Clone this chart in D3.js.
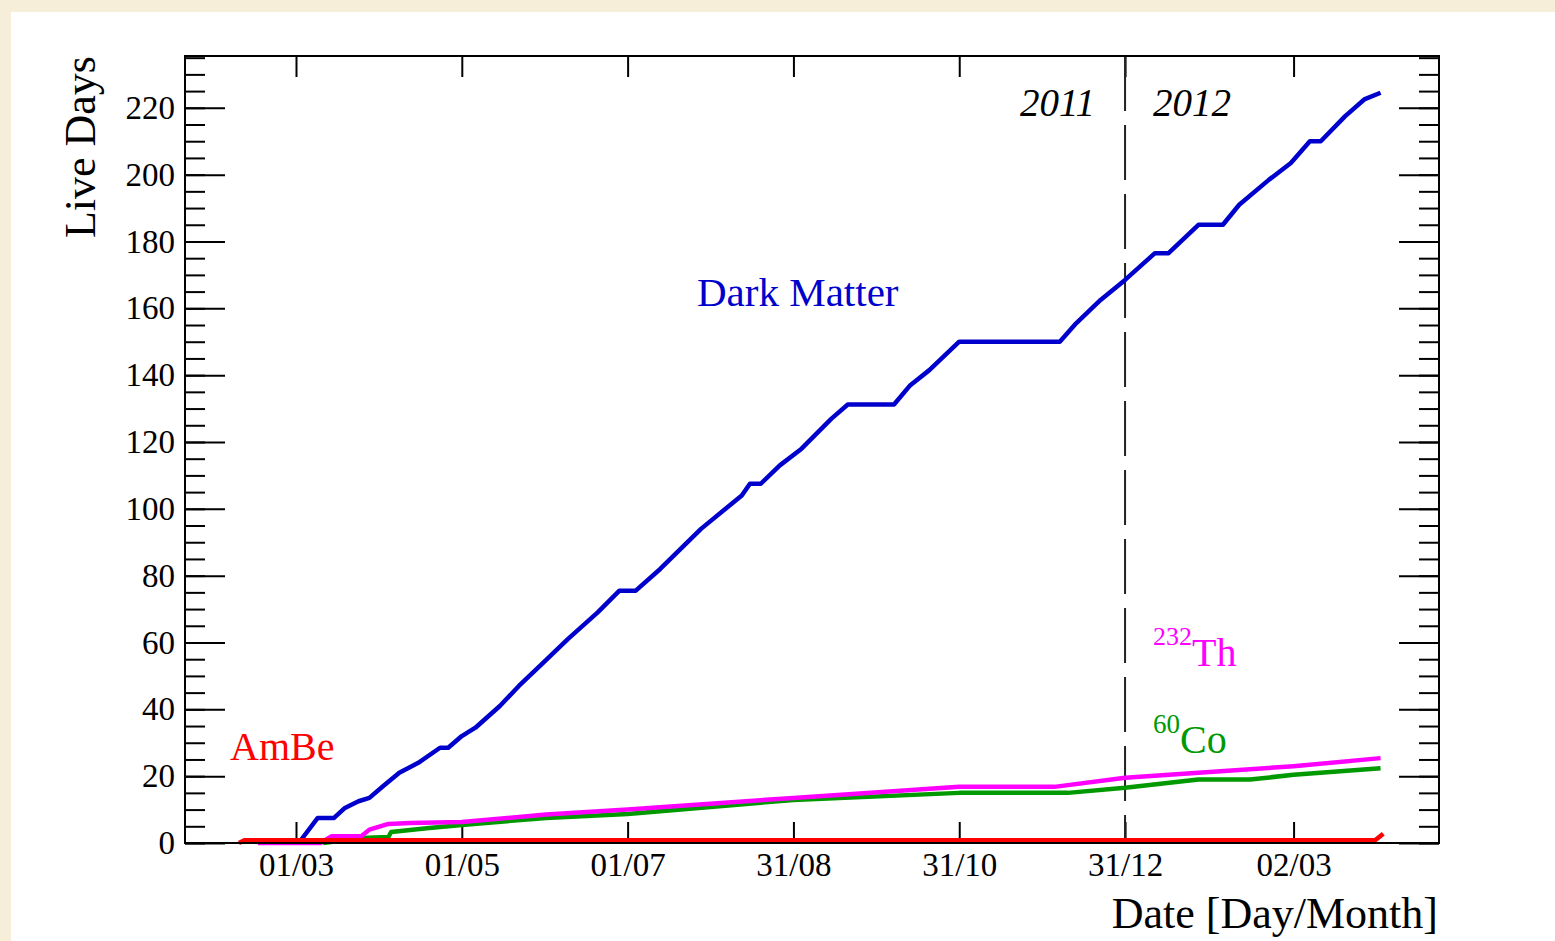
<!DOCTYPE html>
<html>
<head>
<meta charset="utf-8">
<script src="https://cdn.jsdelivr.net/npm/d3@7"></script>
<style>
  html, body { margin: 0; padding: 0; background: #f6eed8; }
  svg { display: block; }
  text { font-family: "Liberation Serif", "Times New Roman", serif; }
</style>
</head>
<body>
<svg id="chart" width="1555" height="941"></svg>
<script>
// ---------- data ----------
const xTickDates  = ["2011-03-01","2011-05-01","2011-07-01","2011-08-31","2011-10-31","2011-12-31","2012-03-02"];
const yTickValues = [0,20,40,60,80,100,120,140,160,180,200,220];
const yearBoundary = "2011-12-31";

const darkMatterDates = ["2011-03-02","2011-03-09","2011-03-15","2011-03-19","2011-03-24","2011-03-28","2011-04-02","2011-04-08","2011-04-15","2011-04-23","2011-04-26","2011-05-01","2011-05-06","2011-05-15","2011-05-22","2011-05-31","2011-06-09","2011-06-20","2011-06-28","2011-07-04","2011-07-13","2011-07-28","2011-08-12","2011-08-15","2011-08-19","2011-08-26","2011-09-03","2011-09-14","2011-09-20","2011-10-07","2011-10-13","2011-10-20","2011-10-31","2011-12-07","2011-12-13","2011-12-22","2011-12-31","2012-01-11","2012-01-16","2012-01-27","2012-02-05","2012-02-11","2012-02-22","2012-03-01","2012-03-08","2012-03-12","2012-03-21","2012-03-28","2012-04-03"];
const darkMatterDays  = [0,7.5,7.5,10.5,12.5,13.5,17,21,24,28.5,28.5,32,34.5,41,47,54,61,69,75.5,75.5,82,94,104,107.5,107.5,113,118,127,131.2,131.2,137,141.5,150,150,155.5,162.5,168.5,176.5,176.5,185,185,191,198.5,203.5,210,210,217.5,222.5,224.5];

const thoriumDates = ["2011-02-15","2011-03-10","2011-03-14","2011-03-25","2011-03-28","2011-04-04","2011-04-12","2011-05-01","2011-06-01","2011-07-01","2011-08-31","2011-10-31","2011-12-05","2011-12-31","2012-01-27","2012-03-02","2012-04-03"];
const thoriumDays  = [0,0,2,2,4,5.7,6,6.3,8.5,10,13.5,16.8,16.8,19.5,21,23,25.4];

const cobaltDates = ["2011-03-11","2011-03-25","2011-04-04","2011-04-05","2011-04-19","2011-05-01","2011-06-01","2011-07-01","2011-08-31","2011-10-31","2011-12-10","2011-12-31","2012-01-27","2012-02-15","2012-03-02","2012-04-03"];
const cobaltDays  = [0,1.5,1.8,3.3,4.5,5.4,7.5,8.7,12.9,15,15,16.5,19,19,20.4,22.4];

const ambeDates = ["2011-02-08","2011-02-10","2012-04-01","2012-04-04"];
const ambeDays  = [0,0.8,0.8,2.8];

// ---------- layout ----------
const svg = d3.select("#chart");
const W = 1555, H = 941;
const mLeft = 185, mRight = 1439, mTop = 56, mBottom = 843;

svg.append("rect").attr("x", 0).attr("y", 0).attr("width", W).attr("height", H).attr("fill", "#f6eed8");
svg.append("rect").attr("x", 11).attr("y", 12).attr("width", W - 11).attr("height", H - 12).attr("fill", "#ffffff");

const parse = d3.utcParse("%Y-%m-%d");
const fmt = d3.utcFormat("%d/%m");

const x = d3.scaleUtc()
  .domain([new Date(Date.UTC(2011, 0, 19, 4)), new Date(Date.UTC(2012, 3, 24, 12))])
  .range([mLeft, mRight]);
const y = d3.scaleLinear().domain([0, 235.5]).range([mBottom, mTop]);

const g = svg.append("g");

// ---------- axes ----------
const minorY = d3.range(0, 236, 5);
function styleAxis(sel) {
  sel.select(".domain").remove();
  sel.selectAll(".tick line").attr("stroke", "#000").attr("stroke-width", 2);
  sel.selectAll("text").attr("fill", "#000").style("font-family", '"Liberation Serif", serif');
}

g.append("g").attr("transform", `translate(${mLeft},0)`)
  .call(d3.axisLeft(y).tickValues(minorY).tickSizeInner(-20).tickSizeOuter(0).tickFormat(""))
  .call(styleAxis);
g.append("g").attr("transform", `translate(${mLeft},0)`)
  .call(d3.axisLeft(y).tickValues(yTickValues).tickSizeInner(-40).tickSizeOuter(0).tickPadding(10).tickFormat(d3.format("d")))
  .call(styleAxis)
  .selectAll("text").style("font-size", "33px");
g.append("g").attr("transform", `translate(${mRight},0)`)
  .call(d3.axisRight(y).tickValues(minorY).tickSizeInner(-20).tickSizeOuter(0).tickFormat(""))
  .call(styleAxis);
g.append("g").attr("transform", `translate(${mRight},0)`)
  .call(d3.axisRight(y).tickValues(yTickValues).tickSizeInner(-40).tickSizeOuter(0).tickFormat(""))
  .call(styleAxis);

const xTicks = xTickDates.map(parse);
g.append("g").attr("transform", `translate(0,${mBottom})`)
  .call(d3.axisBottom(x).tickValues(xTicks).tickSizeInner(-21).tickSizeOuter(0).tickPadding(10).tickFormat(fmt))
  .call(styleAxis)
  .selectAll("text").style("font-size", "33px");
g.append("g").attr("transform", `translate(0,${mTop})`)
  .call(d3.axisTop(x).tickValues(xTicks).tickSizeInner(-21).tickSizeOuter(0).tickFormat(""))
  .call(styleAxis);

const xb = x(parse(yearBoundary));
g.append("line")
  .attr("x1", xb).attr("x2", xb).attr("y1", mTop).attr("y2", mBottom)
  .attr("stroke", "#222").attr("stroke-width", 2)
  .attr("stroke-dasharray", "55,14");

// ---------- series ----------
const line = d3.line().x(d => x(d[0])).y(d => y(d[1]));
function series(dates, vals, color) {
  const pts = dates.map((d, i) => [parse(d), vals[i]]);
  g.append("path").datum(pts)
    .attr("d", line)
    .attr("fill", "none")
    .attr("stroke", color)
    .attr("stroke-width", 4.5)
    .attr("stroke-linejoin", "round");
}
series(darkMatterDates, darkMatterDays, "#0000cc");
series(cobaltDates, cobaltDays, "#009900");
series(thoriumDates, thoriumDays, "#ff00ff");
series(ambeDates, ambeDays, "#ff0000");

g.append("rect")
  .attr("x", mLeft).attr("y", mTop).attr("width", mRight - mLeft).attr("height", mBottom - mTop)
  .attr("fill", "none").attr("stroke", "#000").attr("stroke-width", 2);

// ---------- labels ----------
svg.append("text")
  .attr("transform", `translate(95,56) rotate(-90)`)
  .attr("text-anchor", "end")
  .style("font-size", "44px")
  .text("Live Days");

svg.append("text")
  .attr("x", 1438).attr("y", 928)
  .attr("text-anchor", "end")
  .style("font-size", "44px")
  .text("Date [Day/Month]");

svg.append("text").attr("x", 1020).attr("y", 116)
  .style("font-size", "39px").style("font-style", "italic").text("2011");
svg.append("text").attr("x", 1153).attr("y", 116)
  .style("font-size", "39px").style("font-style", "italic").text("2012");

svg.append("text").attr("x", 697).attr("y", 306)
  .style("font-size", "41px").attr("fill", "#0000cc").text("Dark Matter");

svg.append("text").attr("x", 230).attr("y", 760)
  .style("font-size", "40px").attr("fill", "#ff0000").text("AmBe");

const th = svg.append("text").attr("x", 1153).attr("y", 666).attr("fill", "#ff00ff");
th.append("tspan").attr("dy", -21).style("font-size", "26px").text("232");
th.append("tspan").attr("dy", 21).style("font-size", "40px").text("Th");

const co = svg.append("text").attr("x", 1153).attr("y", 753).attr("fill", "#009900");
co.append("tspan").attr("dy", -20).style("font-size", "27px").text("60");
co.append("tspan").attr("dy", 20).style("font-size", "40px").text("Co");
</script>
</body>
</html>
